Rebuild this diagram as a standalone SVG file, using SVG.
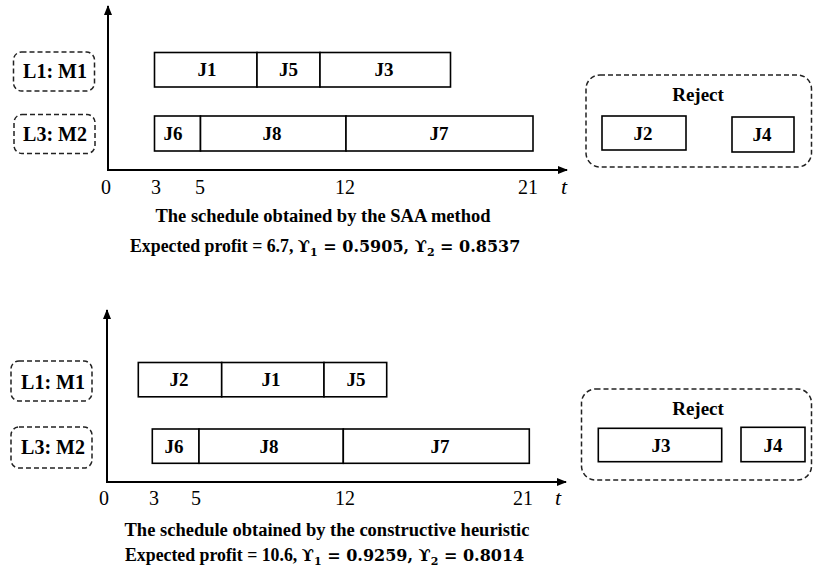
<svg xmlns="http://www.w3.org/2000/svg" width="814" height="574" viewBox="0 0 814 574">
<style>
text{font-family:'Liberation Serif','Times New Roman',serif;fill:#000}
.job rect{fill:#fff;stroke:#000;stroke-width:1.6}
.job text{font-weight:bold;font-size:19px;text-anchor:middle}
.lbl rect{fill:none;stroke:#222;stroke-width:1.5;stroke-dasharray:5 3}
.lbl text{font-weight:bold;font-size:20px;text-anchor:middle}
.rej{fill:none;stroke:#222;stroke-width:1.5;stroke-dasharray:5 3}
.rejt{font-weight:bold;font-size:19px;text-anchor:middle}
.axis{stroke:#000;stroke-width:2;fill:none}
.tick{font-size:20px;text-anchor:middle}
.tv{font-size:22px;font-style:italic;text-anchor:middle}
.title{font-weight:bold;font-size:18.5px;text-anchor:middle}
.prof{font-weight:bold;font-size:17.8px}
.m{font-family:'DejaVu Serif',serif;font-size:16px}
.sub{font-family:'DejaVu Serif',serif;font-size:11px}
</style>
<defs>
<marker id="arr" markerWidth="10" markerHeight="8" refX="9" refY="4" orient="auto" markerUnits="userSpaceOnUse">
<path d="M0,0 L10,4 L0,8 Z" fill="#000"/>
</marker>
</defs>

<!-- ===== Top chart ===== -->
<g id="axes-top">
<path class="axis" d="M108,170 L108,6" marker-end="url(#arr)"/>
<path class="axis" d="M107,170 L567,170" marker-end="url(#arr)"/>
</g>
<g id="ticks-top">
<text class="tick" x="106" y="194">0</text>
<text class="tick" x="156" y="194">3</text>
<text class="tick" x="200" y="194">5</text>
<text class="tick" x="345" y="194">12</text>
<text class="tick" x="528" y="194">21</text>
<text class="tv" x="564" y="194">t</text>
</g>
<g id="top-L1" class="lbl"><rect x="13.5" y="52" width="81" height="39" rx="8"/><text x="55" y="77.5">L1: M1</text></g>
<g id="top-L3" class="lbl"><rect x="14" y="114.5" width="81" height="39" rx="8"/><text x="55" y="140.5">L3: M2</text></g>

<g id="top-J1" class="job"><rect x="154.5" y="52.5" width="102.5" height="34.5"/><text x="207" y="76">J1</text></g>
<g id="top-J5" class="job"><rect x="257" y="52.5" width="63" height="34.5"/><text x="288.5" y="76">J5</text></g>
<g id="top-J3" class="job"><rect x="320" y="52.5" width="130.5" height="34.5"/><text x="384" y="76">J3</text></g>
<g id="top-J6" class="job"><rect x="154.5" y="116" width="46" height="35"/><text x="173" y="140">J6</text></g>
<g id="top-J8" class="job"><rect x="200.5" y="116" width="145.5" height="35"/><text x="272" y="140">J8</text></g>
<g id="top-J7" class="job"><rect x="346" y="116" width="187" height="35"/><text x="439" y="140">J7</text></g>

<g id="top-reject">
<rect class="rej" x="586" y="75" width="225.5" height="92" rx="14"/>
<text class="rejt" x="698" y="101">Reject</text>
<g id="top-J2" class="job"><rect x="602" y="116" width="84" height="34"/><text x="643" y="140">J2</text></g>
<g id="top-J4" class="job"><rect x="732" y="117" width="62" height="35"/><text x="762" y="141">J4</text></g>
</g>

<text class="title" x="323" y="222">The schedule obtained by the SAA method</text>
<text class="prof" x="130" y="252">Expected profit = 6.7, <tspan class="m">ϒ</tspan><tspan class="sub" dy="4">1</tspan><tspan class="m" dy="-4"> = 0.5905, ϒ</tspan><tspan class="sub" dy="4">2</tspan><tspan class="m" dy="-4"> = 0.8537</tspan></text>

<!-- ===== Bottom chart ===== -->
<g id="axes-bottom">
<path class="axis" d="M107,482 L107,310" marker-end="url(#arr)"/>
<path class="axis" d="M106,482 L566,482" marker-end="url(#arr)"/>
</g>
<g id="ticks-bottom">
<text class="tick" x="104" y="505">0</text>
<text class="tick" x="154" y="505">3</text>
<text class="tick" x="196" y="505">5</text>
<text class="tick" x="345" y="505">12</text>
<text class="tick" x="523" y="505">21</text>
<text class="tv" x="558" y="505">t</text>
</g>
<g id="bot-L1" class="lbl"><rect x="11" y="361" width="81" height="40" rx="8"/><text x="53" y="389">L1: M1</text></g>
<g id="bot-L3" class="lbl"><rect x="11" y="427" width="81" height="41" rx="8"/><text x="53" y="454">L3: M2</text></g>

<g id="bot-J2" class="job"><rect x="138.3" y="362.5" width="83.4" height="34.3"/><text x="179" y="386">J2</text></g>
<g id="bot-J1" class="job"><rect x="221.7" y="362.5" width="102.3" height="34.3"/><text x="271" y="386">J1</text></g>
<g id="bot-J5" class="job"><rect x="324" y="362.5" width="62.7" height="34.3"/><text x="356" y="386">J5</text></g>
<g id="bot-J6" class="job"><rect x="152.3" y="429" width="46.7" height="34.3"/><text x="174" y="453">J6</text></g>
<g id="bot-J8" class="job"><rect x="199" y="429" width="144.3" height="34.3"/><text x="269" y="453">J8</text></g>
<g id="bot-J7" class="job"><rect x="343.3" y="429" width="186" height="34.3"/><text x="440" y="453">J7</text></g>

<g id="bot-reject">
<rect class="rej" x="581.5" y="389" width="230" height="91" rx="14"/>
<text class="rejt" x="698" y="415">Reject</text>
<g id="bot-J3" class="job"><rect x="598.3" y="428.3" width="123.4" height="33.4"/><text x="661" y="452">J3</text></g>
<g id="bot-J4" class="job"><rect x="741" y="427.3" width="64" height="34.4"/><text x="773" y="452">J4</text></g>
</g>

<text class="title" x="327" y="536">The schedule obtained by the constructive heuristic</text>
<text class="prof" x="125" y="561">Expected profit = 10.6, <tspan class="m">ϒ</tspan><tspan class="sub" dy="4">1</tspan><tspan class="m" dy="-4"> = 0.9259, ϒ</tspan><tspan class="sub" dy="4">2</tspan><tspan class="m" dy="-4"> = 0.8014</tspan></text>
</svg>
